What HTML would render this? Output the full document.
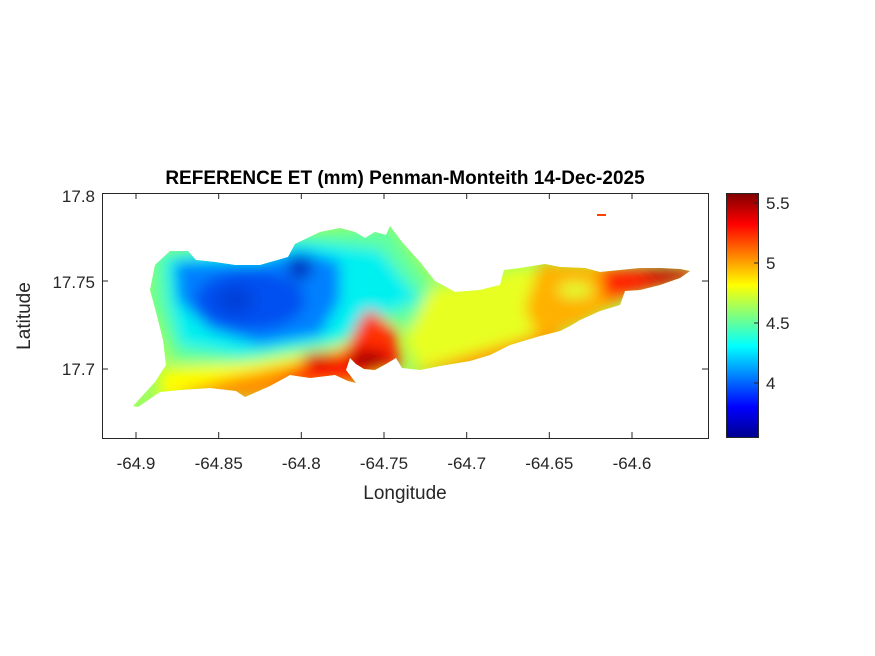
<!DOCTYPE html>
<html><head><meta charset="utf-8"><style>
html,body{margin:0;padding:0;background:#fff;}
svg{display:block;font-family:"Liberation Sans",Arial,sans-serif;}
</style></head><body>
<svg width="875" height="656" viewBox="0 0 875 656">
<defs>
<clipPath id="isl"><path d="M133,406 L155,382 L166,365 L163,340 L156,312 L150,290 L155,265 L170,251 L188,251 L196,260 L215,262 L235,265 L260,265 L288,257 L295,244 L320,232 L340,228 L355,232 L365,238 L375,232 L386,235 L390,226 L402,242 L420,262 L435,281 L455,292 L480,290 L500,285 L504,270 L520,268 L545,264 L560,267 L585,268 L600,272 L620,270 L640,268 L660,268 L680,269 L690,271 L680,278 L660,285 L640,290 L625,291 L620,305 L600,311 L580,320 L570,326 L560,331 L540,336 L510,345 L490,355 L470,361 L440,366 L420,370 L402,368 L396,358 L386,364 L375,370 L364,369 L356,364 L350,358 L346,370 L356,383 L348,381 L335,375 L310,378 L290,375 L270,386 L245,397 L236,391 L210,388 L180,390 L160,392 L138,407 Z"/></clipPath>
<filter id="bl" x="-50%" y="-50%" width="200%" height="200%"><feGaussianBlur stdDeviation="7"/></filter>
<linearGradient id="cb" x1="0" y1="1" x2="0" y2="0">
<stop offset="0" stop-color="#00008f"/><stop offset="0.125" stop-color="#0000ff"/><stop offset="0.375" stop-color="#00ffff"/><stop offset="0.5" stop-color="#7fff7f"/><stop offset="0.625" stop-color="#ffff00"/><stop offset="0.875" stop-color="#ff0000"/><stop offset="1" stop-color="#800000"/>
</linearGradient>
</defs>
<rect x="102" y="193" width="606" height="245" fill="#fff"/>
<g clip-path="url(#isl)">
<rect x="120" y="220" width="580" height="200" fill="#a0ff60"/>
<g filter="url(#bl)">
<path d="M150,250 L390,225 L440,300 L430,330 L380,320 L340,345 L240,365 L175,360 L150,300 Z" fill="#60ffa0"/>
<path d="M165,258 L300,240 L380,250 L420,300 L380,315 L340,340 L240,355 L180,345 L168,300 Z" fill="#00f0f0"/>
<path d="M175,262 L260,262 L300,250 L340,262 L340,300 L320,335 L260,345 L210,330 L178,300 Z" fill="#0080ff"/>
<ellipse cx="250" cy="300" rx="55" ry="30" fill="#0050f0"/>
<ellipse cx="300" cy="268" rx="12" ry="12" fill="#0030c0"/>
<ellipse cx="235" cy="300" rx="18" ry="14" fill="#0040d8"/>
<path d="M430,290 L520,268 L545,270 L545,330 L480,355 L420,370 L405,340 Z" fill="#e8ff20"/>
<path d="M160,370 L260,362 L330,350 L360,340 L400,350 L380,380 L160,400 Z" fill="#ffff00"/>
<path d="M170,395 L230,378 L290,365 L340,350 L380,340 L400,360 L360,385 L250,400 Z" fill="#ff9000"/>
<path d="M270,385 L300,370 L345,352 L360,320 L372,310 L395,330 L402,365 L360,380 Z" fill="#ff1a00"/>
<path d="M355,340 L365,310 L385,325 L395,350 Z" fill="#ff3000"/>
<ellipse cx="320" cy="360" rx="18" ry="7" fill="#d80000"/>
<ellipse cx="368" cy="360" rx="20" ry="9" fill="#a00000"/>
<path d="M410,372 L470,355 L520,340 L560,325 L560,345 L470,372 Z" fill="#ff9000"/>
<path d="M540,262 L620,266 L625,300 L580,325 L540,338 L525,310 Z" fill="#ffb000"/>
<ellipse cx="575" cy="290" rx="18" ry="8" fill="#e0ff30"/>
<path d="M600,268 L700,268 L690,280 L630,295 L605,300 Z" fill="#ff2000"/>
<ellipse cx="665" cy="275" rx="22" ry="6" fill="#b80000"/>
</g>
</g>
<rect x="597" y="214" width="9" height="2" fill="#ff4000"/>
<rect x="102.5" y="193.5" width="606" height="245" fill="none" stroke="#262626" stroke-width="1"/>
<g stroke="#262626" stroke-width="1">
<line x1="136" y1="438" x2="136" y2="432"/><line x1="218.7" y1="438" x2="218.7" y2="432"/><line x1="301.3" y1="438" x2="301.3" y2="432"/><line x1="384" y1="438" x2="384" y2="432"/><line x1="466.7" y1="438" x2="466.7" y2="432"/><line x1="549.3" y1="438" x2="549.3" y2="432"/><line x1="632" y1="438" x2="632" y2="432"/>
<line x1="136" y1="193" x2="136" y2="199"/><line x1="218.7" y1="193" x2="218.7" y2="199"/><line x1="301.3" y1="193" x2="301.3" y2="199"/><line x1="384" y1="193" x2="384" y2="199"/><line x1="466.7" y1="193" x2="466.7" y2="199"/><line x1="549.3" y1="193" x2="549.3" y2="199"/><line x1="632" y1="193" x2="632" y2="199"/>
<line x1="102" y1="281" x2="108" y2="281"/><line x1="102" y1="369" x2="108" y2="369"/>
<line x1="708" y1="281" x2="702" y2="281"/><line x1="708" y1="369" x2="702" y2="369"/>
</g>
<g font-size="17" fill="#262626" text-anchor="middle">
<text x="136" y="469">-64.9</text><text x="218.7" y="469">-64.85</text><text x="301.3" y="469">-64.8</text><text x="384" y="469">-64.75</text><text x="466.7" y="469">-64.7</text><text x="549.3" y="469">-64.65</text><text x="632" y="469">-64.6</text>
</g>
<g font-size="17" fill="#262626" text-anchor="end">
<text x="95" y="202">17.8</text><text x="95" y="288">17.75</text><text x="95" y="375">17.7</text>
</g>
<text x="405" y="499" font-size="19" fill="#262626" text-anchor="middle">Longitude</text>
<text x="30" y="316" font-size="19" fill="#262626" text-anchor="middle" transform="rotate(-90 30 316)">Latitude</text>
<text x="405" y="184" font-size="19" font-weight="bold" fill="#000" text-anchor="middle">REFERENCE ET (mm) Penman-Monteith 14-Dec-2025</text>
<rect x="726.5" y="193.5" width="32" height="244" fill="url(#cb)" stroke="#262626" stroke-width="1"/>
<g stroke="#262626"><line x1="758" y1="203" x2="754" y2="203"/><line x1="758" y1="263" x2="754" y2="263"/><line x1="758" y1="323" x2="754" y2="323"/><line x1="758" y1="383" x2="754" y2="383"/></g>
<g font-size="17" fill="#262626">
<text x="766" y="209">5.5</text><text x="766" y="269">5</text><text x="766" y="329">4.5</text><text x="766" y="389">4</text>
</g>
</svg>
</body></html>
